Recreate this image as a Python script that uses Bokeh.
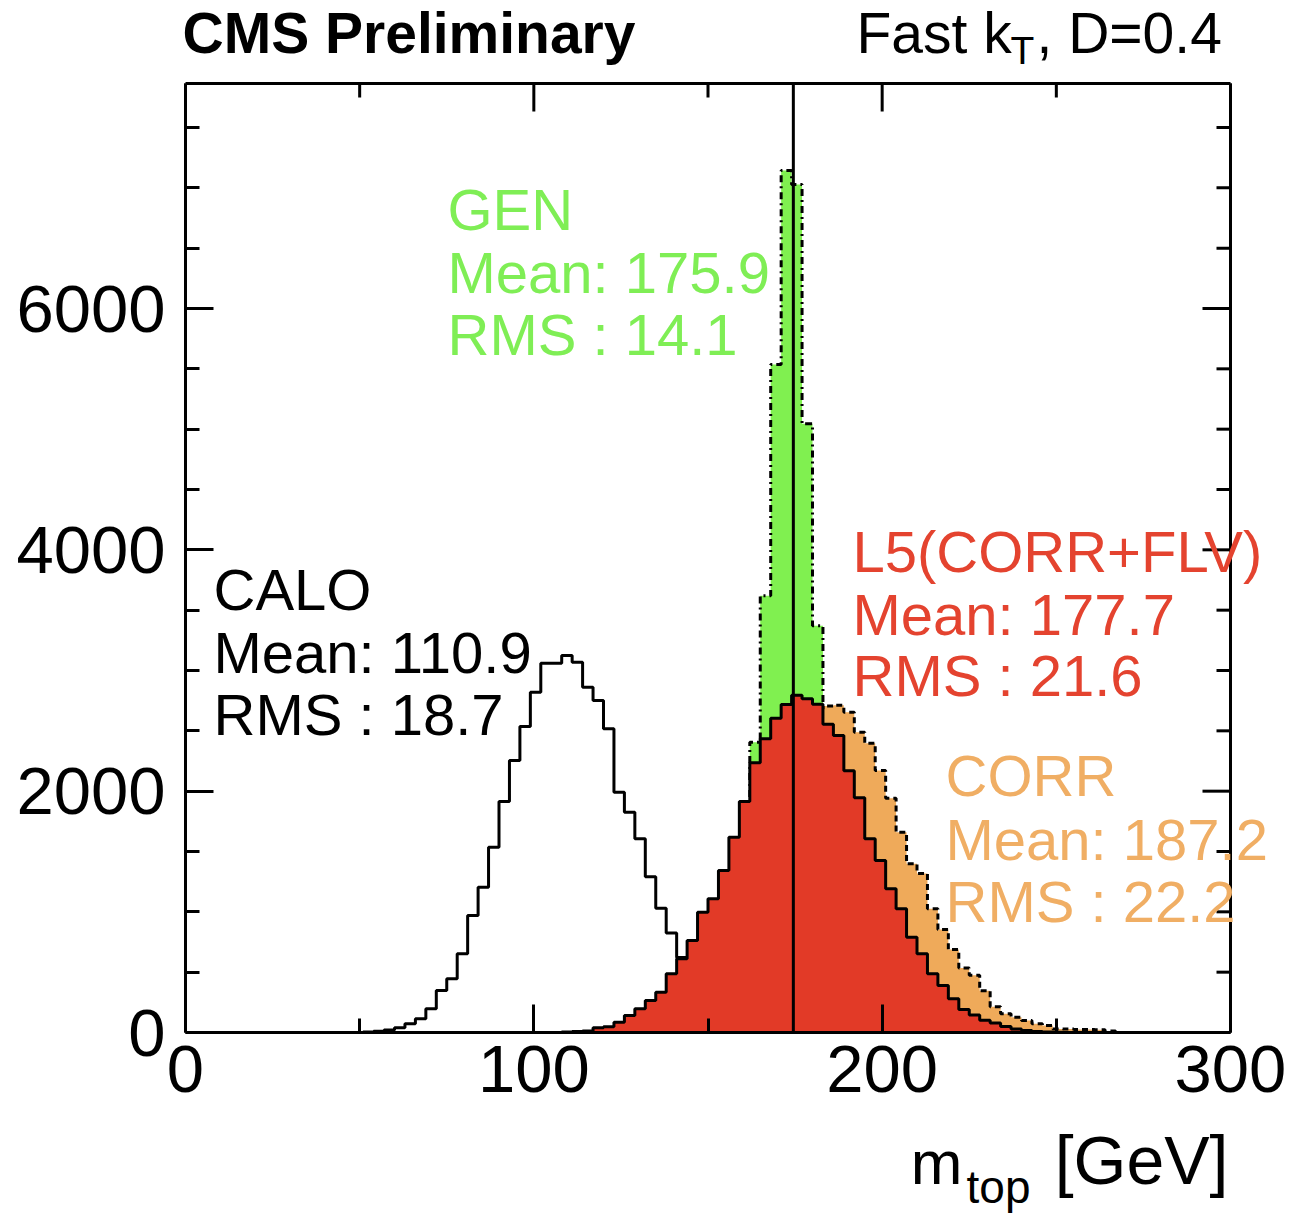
import numpy as np
from bokeh.plotting import figure
from bokeh.models import Range1d, LinearAxis, FixedTicker, Label
from bokeh.embed import file_html
from bokeh.resources import INLINE

# ---------------- data ----------------
bin_width = 3.0  # GeV per bin, bins start at 0

calo_first_bin = 17
calo_counts = [5, 10, 20, 40, 72, 113, 196, 348, 445, 652, 970, 1204, 1536, 1914,
               2254, 2536, 2820, 3060, 3060, 3124, 3069, 2862, 2751, 2517, 1991,
               1826, 1605, 1290, 1030, 825, 622, 450, 320, 210, 140, 90, 55, 30, 18, 10]

gen_first_bin = 44
gen_counts = [40, 50, 60, 80, 110, 160, 250, 400, 700, 1300, 2406, 3620, 5536,
              7143, 7027, 5044, 3370, 1700, 900, 500, 300, 200, 130, 90, 60, 40, 30]

corr_first_bin = 40
corr_counts = [20, 35, 60, 95, 140, 200, 280, 380, 500, 650, 820, 1000, 1200, 1420,
               1650, 1880, 2100, 2300, 2470, 2600, 2680, 2705, 2712, 2654, 2489,
               2398, 2171, 1942, 1660, 1398, 1318, 1025, 854, 688, 535, 475, 345,
               214, 155, 127, 99, 72, 58, 30, 28, 25, 25, 22, 12]

l5_first_bin = 36
l5_counts = [5, 8, 12, 40, 48, 85, 141, 196, 265, 334, 486, 611, 762, 997, 1108,
             1342, 1619, 1915, 2235, 2434, 2605, 2718, 2795, 2765, 2720, 2555, 2461,
             2170, 1945, 1605, 1425, 1191, 1025, 790, 652, 486, 389, 279, 190, 145,
             102, 78, 50, 30, 17, 8, 5, 2]

ref_mass = 174.5

x_ticks = [0, 100, 200, 300]
x_minor_ticks = [50, 150, 250]
y_ticks = [0, 2000, 4000, 6000]
y_minor_ticks = [500, 1000, 1500, 2500, 3000, 3500, 4500, 5000, 5500, 6500, 7000, 7500]

stats = {
    "GEN": ("175.9", "14.1"),
    "CALO": ("110.9", "18.7"),
    "L5(CORR+FLV)": ("177.7", "21.6"),
    "CORR": ("187.2", "22.2"),
}

# ---------------- layout ----------------
W, H = 1312, 1230
FL, FR, FT, FB = 185, 1230, 83, 1032      # plot box in canvas pixels
X_MAX = 300.0
Y_MAX = (FB - FT) * 6000.0 / (FB - 308)
MAJOR_TICK_PX, MINOR_TICK_PX = 28, 14

FONT = "Liberation Sans"
GREEN = "#80F050"
GREEN_T = "#7FEE55"
RED = "#E23A27"
RED_T = "#E4432F"
ORANGE = "#EFAA5A"
ORANGE_T = "#F0AE64"


def X(px):
    return (px - FL) / (FR - FL) * X_MAX


def Y(py):
    return (FB - py) / (FB - FT) * Y_MAX


DX = X_MAX / (FR - FL)   # data units per pixel
DY = Y_MAX / (FB - FT)

# the frame covers the whole canvas; the axes sit at fixed data locations
p = figure(width=W, height=H, output_backend="svg", toolbar_location=None,
           x_range=Range1d(X(0), X(W)), y_range=Range1d(Y(H), Y(0)),
           x_axis_type=None, y_axis_type=None,
           min_border=0, min_border_left=0, min_border_right=0,
           min_border_top=0, min_border_bottom=0)
p.xgrid.visible = False
p.ygrid.visible = False
p.background_fill_color = "white"
p.border_fill_color = "white"
p.outline_line_color = None


def make_axis(loc, bounds, ticks, minor, standoff):
    ax = LinearAxis(fixed_location=loc, bounds=bounds)
    ax.ticker = FixedTicker(ticks=ticks, minor_ticks=minor)
    ax.axis_line_color = "black"
    ax.axis_line_width = 3
    ax.major_tick_line_width = 3
    ax.minor_tick_line_width = 3
    ax.major_tick_in = MAJOR_TICK_PX
    ax.major_tick_out = 0
    ax.minor_tick_in = MINOR_TICK_PX
    ax.minor_tick_out = 0
    ax.major_label_text_font = FONT
    ax.major_label_text_color = "black"
    ax.major_label_text_font_size = "67px"
    ax.major_label_standoff = standoff
    return ax


p.add_layout(make_axis(0, (0, X_MAX), x_ticks, x_minor_ticks, 13), "below")
p.add_layout(make_axis(0, (0, Y_MAX), y_ticks, y_minor_ticks, 20), "left")

# top and right sides of the box, with inward ticks (no labels)
p.segment(x0=[0, X_MAX], y0=[Y_MAX, 0], x1=[X_MAX, X_MAX], y1=[Y_MAX, Y_MAX],
          line_color="black", line_width=3)
tx = list(x_ticks) + list(x_minor_ticks)
tl = [MAJOR_TICK_PX] * len(x_ticks) + [MINOR_TICK_PX] * len(x_minor_ticks)
p.segment(x0=tx, y0=[Y_MAX] * len(tx), x1=tx, y1=[Y_MAX - l * DY for l in tl],
          line_color="black", line_width=3)
ty = list(y_ticks) + list(y_minor_ticks)
tl = [MAJOR_TICK_PX] * len(y_ticks) + [MINOR_TICK_PX] * len(y_minor_ticks)
p.segment(x0=[X_MAX] * len(ty), y0=ty, x1=[X_MAX - l * DX for l in tl], y1=ty,
          line_color="black", line_width=3)


def outline(first_bin, counts):
    counts = np.asarray(counts, dtype=float)
    edges = (first_bin + np.arange(len(counts) + 1)) * bin_width
    xs = np.repeat(edges, 2)
    ys = np.concatenate([[0.0], np.repeat(counts, 2), [0.0]])
    return xs, ys


# CALO: outline only
xs, ys = outline(calo_first_bin, calo_counts)
p.line(xs, ys, line_color="black", line_width=3)

# GEN
xs, ys = outline(gen_first_bin, gen_counts)
p.patch(xs, ys, fill_color=GREEN, line_color=None)
p.line(xs, ys, line_color="black", line_width=3, line_dash="7 4 2 4")

# CORR
xs, ys = outline(corr_first_bin, corr_counts)
p.patch(xs, ys, fill_color=ORANGE, line_color=None)
p.line(xs, ys, line_color="black", line_width=3, line_dash="6 4")

# L5
xs, ys = outline(l5_first_bin, l5_counts)
p.patch(xs, ys, fill_color=RED, line_color=None)
p.line(xs, ys, line_color="black", line_width=3)

# reference mass line inside the box
p.segment(x0=[ref_mass], y0=[0], x1=[ref_mass], y1=[Y_MAX], line_color="black", line_width=3)


def label(px, py, text, size, color="black", style="normal", align="left"):
    # py is the desired baseline in canvas pixels (empirical shift for Bokeh's text box)
    p.add_layout(Label(x=X(px), y=Y(py - 0.39 * size), text=text, text_font=FONT,
                       text_font_size=f"{size}px", text_color=color,
                       text_font_style=style, text_align=align,
                       text_baseline="alphabetic"))


def top_label(px, py_top, text, size, style="normal"):
    p.add_layout(Label(x=X(px), y=Y(py_top), text=text, text_font=FONT,
                       text_font_size=f"{size}px", text_color="black",
                       text_font_style=style, text_align="left",
                       text_baseline="top"))


def stat_block(px, pys, name, color):
    mean, rms = stats[name]
    label(px, pys[0], name, 58, color)
    label(px, pys[1], f"Mean: {mean}", 58, color)
    label(px, pys[2], f"RMS : {rms}", 58, color)


stat_block(447, (232, 295, 357), "GEN", GREEN_T)
stat_block(213, (612, 675, 737), "CALO", "black")
stat_block(852, (574, 637, 698), "L5(CORR+FLV)", RED_T)
stat_block(945, (798, 862, 924), "CORR", ORANGE_T)

# header (top-anchored so the text boxes stay inside the canvas)
top_label(182, 0, "CMS Preliminary", 57, style="bold")
top_label(856, 0, "Fast k", 57)
top_label(1010, 28, "T", 39)
top_label(1036, 0, ", D=0.4", 57)

# x-axis title
label(962, 1186, "m", 62, align="right")
label(1030, 1204, "top", 46, align="right")
label(1228, 1186, "[GeV]", 68, align="right")

open("out.html", "w").write(file_html(p, INLINE))
